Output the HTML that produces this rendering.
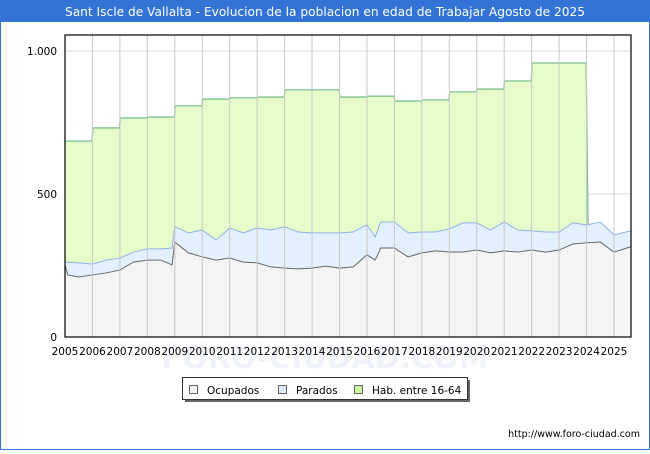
<!DOCTYPE html>
<html><head><meta charset="utf-8"><style>
body{margin:0;width:650px;height:450px;background:#fff;font-family:"DejaVu Sans","Liberation Sans",sans-serif;overflow:hidden}
</style></head><body>
<svg width="650" height="450" xmlns="http://www.w3.org/2000/svg" font-family="DejaVu Sans, Liberation Sans, sans-serif">
<rect x="0" y="0" width="650" height="450" fill="#fff"/>
<rect x="0" y="0" width="650" height="22" fill="#3373d6"/>
<rect x="0.5" y="0.5" width="649" height="449" fill="none" stroke="#3373d6"/>
<text x="325" y="16" text-anchor="middle" fill="#fff" font-size="12.2">Sant Iscle de Vallalta - Evolucion de la poblacion en edad de Trabajar Agosto de 2025</text>
<text x="325" y="368" text-anchor="middle" fill="#f1f3fb" font-size="30" font-weight="bold">FORO-CIUDAD.COM</text>
<g id="grid"></g>
<g id="series"></g>
<rect x="65" y="35" width="566" height="302" fill="none" stroke="#000" stroke-width="1.2"/>
<g id="axes" font-size="10.5"></g>
<g>
<rect x="185" y="380" width="285" height="22" fill="#666"/>
<rect x="182.5" y="377.5" width="285" height="22" fill="#fff" stroke="#333"/>
<rect x="189.5" y="385.5" width="8" height="8" fill="#f4f4f4" stroke="#666"/>
<text x="207" y="394" font-size="10.5">Ocupados</text>
<rect x="278.5" y="385.5" width="8" height="8" fill="#dde9fb" stroke="#666"/>
<text x="296" y="394" font-size="10.5">Parados</text>
<rect x="354.5" y="385.5" width="8" height="8" fill="#ccf3a0" stroke="#666"/>
<text x="372" y="394" font-size="10.5">Hab. entre 16-64</text>
</g>
<text x="640" y="437" text-anchor="end" font-size="9.5">http://www.foro-ciudad.com</text>
</svg>
<script>
const years=[2005,2006,2007,2008,2009,2010,2011,2012,2013,2014,2015,2016,2017,2018,2019,2020,2021,2022,2023,2024,2025];
const habYears=[2005,2006,2007,2008,2009,2010,2011,2012,2013,2014,2015,2016,2017,2018,2019,2020,2021,2022,2023];
const habValues=[685,731,766,769,808,832,836,839,864,864,839,842,825,829,857,867,895,958,958];
const tPoints=[2005.0,2005.1,2005.5,2006,2006.5,2007,2007.5,2008,2008.5,2008.9,2009.0,2009.5,2010,2010.5,2011,2011.5,2012,2012.5,2013,2013.5,2014,2014.5,2015,2015.5,2016,2016.3,2016.5,2017,2017.5,2018,2018.5,2019,2019.5,2020,2020.5,2021,2021.5,2022,2022.5,2023,2023.5,2024,2024.5,2025,2025.6];
const ocupados=[252,217,210,217,224,234,262,269,269,252,332,294,280,269,276,262,259,245,241,238,241,248,241,245,287,269,311,311,280,294,301,297,297,304,294,301,297,304,297,304,325,329,332,297,315];
const totalActivos=[262,262,259,255,269,276,297,308,308,311,385,364,374,339,381,364,381,374,385,367,364,364,364,367,392,350,402,402,364,367,367,378,399,399,374,402,374,371,367,367,399,392,402,357,371];
const yTicks=[0,500,1000];
const yTickLabels=["0","500","1.000"];
const X0=65,XW=27.45,Y0=337,YS=0.286;
const xs=t=>X0+(t-2005)*XW;
const ys=v=>Y0-v*YS;
const NS="http://www.w3.org/2000/svg";
function mk(tag,attrs,parent){const e=document.createElementNS(NS,tag);for(const k in attrs)e.setAttribute(k,attrs[k]);parent.appendChild(e);return e;}
const grid=document.getElementById('grid'),ser=document.getElementById('series'),axes=document.getElementById('axes');
yTicks.forEach((v,i)=>{
 const l=mk('line',{x1:X0,x2:631,y1:ys(v),y2:ys(v),stroke:'#ddd'},grid);
 
 
 const t=mk('text',{x:57,y:ys(v)+4,'text-anchor':'end'},axes);t.textContent=yTickLabels[i];
 
 
});
let hp=[];
habYears.forEach((y,i)=>{const x1=xs(y)+(i?0.4:0),x2=xs(y+1)-0.4;hp.push([x1,ys(habValues[i])],[x2,ys(habValues[i])]);});
const endX=xs(2024)+1.5;
const topTot=tPoints.map((t,i)=>[xs(t),ys(totalActivos[i])]);
const after=topTot.filter(p=>p[0]>=endX);
let hd='M'+X0+','+Y0+' '+hp.map(p=>'L'+p[0]+','+p[1]).join(' ')+' L'+endX+','+ys(392)+' '+after.map(p=>'L'+p[0]+','+p[1]).join(' ')+' L631,'+Y0+' Z';
const hab=mk('path',{d:hd,fill:'#e6fccb'},ser);


const hl=mk('path',{d:'M'+hp.map(p=>p[0]+','+p[1]).join(' L')+' L'+endX+','+ys(392),fill:'none',stroke:'#7dbf8e','stroke-width':1.3},ser);


const tl=topTot.map(p=>p[0]+','+p[1]).join(' L');
const par=mk('path',{d:'M'+X0+','+Y0+' L'+tl+' L631,'+Y0+' Z',fill:'#e3f0fd'},ser);


const pl=mk('path',{d:'M'+tl,fill:'none',stroke:'#8fb2ea','stroke-width':1},ser);


const ol=tPoints.map((t,i)=>xs(t)+','+ys(ocupados[i])).join(' L');
const oc=mk('path',{d:'M'+X0+','+Y0+' L'+ol+' L631,'+Y0+' Z',fill:'#f4f4f4'},ser);


const ocl=mk('path',{d:'M'+ol,fill:'none',stroke:'#666','stroke-width':1},ser);


years.forEach(y=>{
 if(y>2005){const l=mk('line',{x1:xs(y),x2:xs(y),y1:35,y2:Y0,stroke:'#c8c8c8'},ser);
 
 }
 const t=mk('text',{x:xs(y),y:355,'text-anchor':'middle'},axes);t.textContent=y;
 
 
});
</script>
</body></html>
